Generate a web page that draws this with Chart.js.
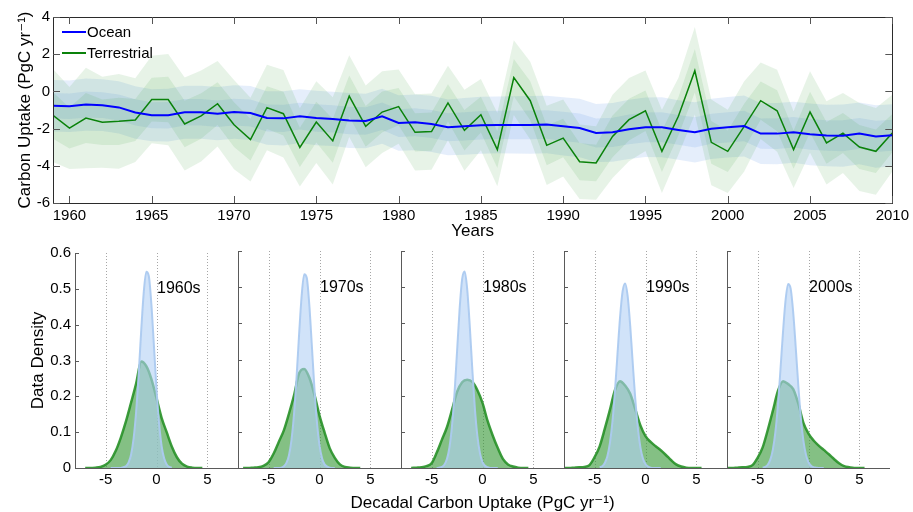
<!DOCTYPE html>
<html>
<head>
<meta charset="utf-8">
<title>Carbon uptake</title>
<script src="https://cdn.jsdelivr.net/npm/chart.js@4.4.1/dist/chart.umd.min.js"></script>
<style>
html,body{margin:0;padding:0;background:#ffffff;overflow:hidden;}
#wrap{position:relative;width:913px;height:512px;}
#wrap canvas{position:absolute;}
</style>
</head>
<body>
<div id="wrap">
<canvas id="topChart" width="913" height="245" style="left:0px;top:0px"></canvas>
<canvas id="d0" width="913" height="272" style="left:0px;top:240px"></canvas>
<canvas id="d1" width="913" height="272" style="left:0px;top:240px"></canvas>
<canvas id="d2" width="861" height="272" style="left:52px;top:240px"></canvas>
<canvas id="d3" width="913" height="272" style="left:0px;top:240px"></canvas>
<canvas id="d4" width="913" height="272" style="left:0px;top:240px"></canvas>
</div>
<script>
// ---------------- data: top panel ----------------
const years = [1959,1960,1961,1962,1963,1964,1965,1966,1967,1968,1969,1970,1971,1972,1973,1974,1975,1976,1977,1978,1979,1980,1981,1982,1983,1984,1985,1986,1987,1988,1989,1990,1991,1992,1993,1994,1995,1996,1997,1998,1999,2000,2001,2002,2003,2004,2005,2006,2007,2008,2009,2010];
const oceanMean = [-0.77,-0.80,-0.71,-0.74,-0.86,-1.13,-1.28,-1.28,-1.12,-1.12,-1.20,-1.11,-1.16,-1.43,-1.45,-1.33,-1.43,-1.48,-1.56,-1.59,-1.34,-1.70,-1.66,-1.75,-1.93,-1.88,-1.82,-1.80,-1.80,-1.80,-1.78,-1.88,-1.97,-2.24,-2.20,-2.04,-1.93,-1.93,-2.07,-2.20,-2.01,-1.93,-1.86,-2.27,-2.27,-2.20,-2.31,-2.37,-2.38,-2.26,-2.42,-2.36];
const oceanSpread = [1.38,1.38,1.40,1.39,1.40,1.41,1.40,1.42,1.43,1.42,1.43,1.44,1.45,1.44,1.46,1.45,1.47,1.46,1.48,1.47,1.48,1.49,1.50,1.51,1.50,1.52,1.53,1.52,1.54,1.55,1.54,1.56,1.57,1.56,1.58,1.59,1.60,1.61,1.60,1.62,1.62,1.63,1.64,1.63,1.65,1.64,1.66,1.65,1.67,1.66,1.68,1.67];
const terrMean = [-1.29,-1.97,-1.43,-1.66,-1.61,-1.54,-0.44,-0.44,-1.75,-1.32,-0.66,-1.79,-2.59,-0.87,-1.20,-3.01,-1.65,-2.66,-0.25,-1.88,-1.11,-0.82,-2.20,-2.16,-0.62,-2.09,-1.25,-3.13,0.74,-0.50,-2.90,-2.51,-3.78,-3.85,-2.42,-1.52,-1.04,-3.22,-1.34,1.11,-2.74,-3.22,-1.88,-0.50,-1.04,-3.13,-1.11,-2.77,-2.24,-2.99,-3.22,-2.24];
const terrSpread = [2.50,2.20,2.70,2.45,2.55,2.25,2.35,2.45,2.50,2.45,2.30,2.40,2.25,2.30,2.35,2.10,2.20,2.35,2.20,2.20,2.20,2.00,2.05,2.05,2.00,2.18,1.92,1.97,2.01,2.09,2.13,2.07,2.00,1.97,2.24,2.24,2.17,2.24,2.06,2.35,2.30,2.24,2.42,2.06,2.20,2.06,2.19,2.24,2.15,2.37,2.33,2.06];
const yearTicks = [1960,1965,1970,1975,1980,1985,1990,1995,2000,2005,2010];
const uptakeTicks = [-6,-4,-2,0,2,4];
const seriesNames = ['Ocean','Terrestrial'];

// ---------------- data: decadal densities ----------------
const decades = ['1960s','1970s','1980s','1990s','2000s'];
const densOceanX = [-4.5,-4.25,-4,-3.75,-3.5,-3.25,-3,-2.75,-2.5,-2.25,-2,-1.75,-1.5,-1.25,-1,-0.75,-0.5,-0.25,0,0.25,0.5,0.75,1,1.25,1.5];
const ocean1960s = [0,0,0,0,0,0.002,0.005,0.015,0.037,0.082,0.157,0.262,0.384,0.491,0.548,0.535,0.456,0.340,0.221,0.126,0.062,0.027,0.010,0.003,0.001];
const ocean1970s = [0,0,0,0.001,0.005,0.014,0.035,0.078,0.150,0.252,0.371,0.477,0.536,0.526,0.451,0.338,0.221,0.126,0.063,0.027,0.010,0.004,0.001,0,0];
const ocean1980s = [0,0.001,0.003,0.009,0.024,0.056,0.115,0.205,0.321,0.438,0.522,0.543,0.494,0.393,0.273,0.165,0.088,0.041,0.016,0.006,0.002,0,0,0,0];
const ocean1990s = [0.002,0.005,0.014,0.032,0.068,0.127,0.212,0.315,0.416,0.488,0.510,0.475,0.393,0.289,0.190,0.111,0.057,0.026,0.011,0.004,0.001,0,0,0,0];
const ocean2000s = [0.001,0.003,0.009,0.023,0.051,0.100,0.175,0.273,0.377,0.464,0.509,0.496,0.430,0.332,0.228,0.139,0.076,0.037,0.016,0.006,0.002,0.001,0,0,0];
const densTerrX = [-8,-7.5,-7,-6.5,-6,-5.5,-5,-4.5,-4,-3.5,-3,-2.5,-2,-1.5,-1,-0.5,0,0.5,1,1.5,2,2.5,3,3.5,4,4.5,5,5.5,6];
const terr1960s = [null,null,0,0,0.001,0.003,0.009,0.022,0.048,0.085,0.130,0.182,0.236,0.297,0.284,0.248,0.195,0.140,0.100,0.060,0.030,0.012,0.004,0.001,0,0,null,null,null];
const terr1970s = [null,0,0,0.001,0.002,0.006,0.016,0.040,0.072,0.104,0.150,0.201,0.262,0.274,0.250,0.203,0.145,0.098,0.055,0.028,0.010,0.003,0.001,0,0,null,null,null,null];
const terr1980s = [null,null,0,0.001,0.002,0.005,0.013,0.042,0.077,0.112,0.160,0.210,0.237,0.244,0.238,0.215,0.180,0.130,0.090,0.055,0.025,0.010,0.004,0.001,0,0,null,null,null];
const terr1990s = [0,0,0.001,0.002,0.003,0.008,0.030,0.060,0.108,0.160,0.215,0.240,0.228,0.205,0.162,0.118,0.088,0.072,0.060,0.049,0.036,0.022,0.010,0.004,0.001,0,0,0,null];
const terr2000s = [0,0,0.001,0.002,0.003,0.008,0.028,0.057,0.105,0.158,0.213,0.240,0.232,0.218,0.178,0.125,0.095,0.076,0.062,0.050,0.038,0.025,0.013,0.005,0.002,0,0,0,null];
const densityXTicks = [-5,0,5];
const densityYTicks = [0,0.1,0.2,0.3,0.4,0.5,0.6];

const oceanDens = [ocean1960s, ocean1970s, ocean1980s, ocean1990s, ocean2000s];
const terrDens = [terr1960s, terr1970s, terr1980s, terr1990s, terr2000s];

// ---------------- common ----------------
Chart.defaults.font.family = "'Liberation Sans', Arial, 'DejaVu Sans', sans-serif";
Chart.defaults.color = '#000';

function seg(ctx, x1, y1, x2, y2) { ctx.beginPath(); ctx.moveTo(x1, y1); ctx.lineTo(x2, y2); ctx.stroke(); }

const decor = {
  id: 'decor',
  beforeDatasetsDraw(chart, args, o) {
    if (!o.dotted) return;
    const ctx = chart.ctx, a = chart.chartArea, x = chart.scales.x;
    ctx.save();
    ctx.strokeStyle = '#a6a6a6'; ctx.lineWidth = 1; ctx.setLineDash([1, 2]);
    o.dotted.forEach(v => { const px = Math.round(x.getPixelForValue(v)) + 0.5; seg(ctx, px, a.top, px, a.bottom); });
    ctx.restore();
  },
  afterDraw(chart, args, o) {
    const ctx = chart.ctx, a = chart.chartArea, x = chart.scales.x, y = chart.scales.y;
    ctx.save();
    ctx.lineWidth = 1;
    if (o.box) {
      ctx.strokeStyle = '#2b2b2b';
      ctx.strokeRect(Math.round(a.left) + 0.5, Math.round(a.top) + 0.5, Math.round(a.right - a.left), Math.round(a.bottom - a.top));
      ctx.strokeStyle = '#555';
      o.xTicks.forEach(v => { const px = Math.round(x.getPixelForValue(v)) + 0.5; seg(ctx, px, a.bottom, px, a.bottom - 7); seg(ctx, px, a.top, px, a.top + 7); });
      o.yTicks.forEach(v => { const py = Math.round(y.getPixelForValue(v)) + 0.5; seg(ctx, a.left, py, a.left + 7, py); seg(ctx, a.right, py, a.right - 7, py); });
    }
    if (o.legend) {
      const ds = chart.data.datasets;
      o.legend.forEach((idx, k) => {
        const ly = a.top + 15 + k * 21;
        ctx.strokeStyle = ds[idx].borderColor; ctx.lineWidth = 2;
        seg(ctx, a.left + 9, ly, a.left + 33, ly);
        ctx.fillStyle = '#000'; ctx.font = "15px 'Liberation Sans', Arial, sans-serif";
        ctx.textAlign = 'left'; ctx.textBaseline = 'middle';
        ctx.fillText(ds[idx].label, a.left + 34, ly + 1);
      });
    }
    if (o.panel) {
      ctx.strokeStyle = '#5a5a5a'; ctx.lineWidth = 1;
      const lx = Math.round(a.left) + 0.5, by = Math.round(a.bottom) + 0.5;
      seg(ctx, lx, a.top, lx, a.bottom);
      seg(ctx, a.left, by, a.right, by);
      o.yTicks.forEach(v => { if (v === 0) return; const py = Math.round(y.getPixelForValue(v)) + 0.5; seg(ctx, a.left, py, a.left + 4, py); });
      ctx.fillStyle = '#000'; ctx.font = "16px 'Liberation Sans', Arial, sans-serif";
      ctx.textAlign = 'left'; ctx.textBaseline = 'middle';
      ctx.fillText(o.label, x.getPixelForValue(0.05), y.getPixelForValue(0.5));
    }
    ctx.restore();
  }
};

// ---------------- top chart ----------------
const pts = arr => years.map((yr, i) => ({x: yr, y: arr[i]}));
const band = (mean, spr, f, sign) => mean.map((m, i) => m + sign * spr[i] * f);
const bandStyle = (col, fill) => ({borderWidth: 0, borderColor: 'transparent', backgroundColor: col, pointRadius: 0, fill: fill, tension: 0});

new Chart(document.getElementById('topChart'), {
  type: 'line',
  data: {
    datasets: [
      {label: seriesNames[0], data: pts(oceanMean), borderColor: '#0000ff', borderWidth: 2, pointRadius: 0, fill: false, tension: 0},
      {label: seriesNames[1], data: pts(terrMean), borderColor: '#0a820a', borderWidth: 1.5, pointRadius: 0, fill: false, tension: 0},
      Object.assign({label: 'terr inner hi', data: pts(band(terrMean, terrSpread, 0.5, 1))}, bandStyle('rgba(70,160,70,0.13)', '+1')),
      Object.assign({label: 'terr inner lo', data: pts(band(terrMean, terrSpread, 0.5, -1))}, bandStyle('transparent', false)),
      Object.assign({label: 'terr outer hi', data: pts(band(terrMean, terrSpread, 1, 1))}, bandStyle('rgba(70,160,70,0.13)', '+1')),
      Object.assign({label: 'terr outer lo', data: pts(band(terrMean, terrSpread, 1, -1))}, bandStyle('transparent', false)),
      Object.assign({label: 'ocean inner hi', data: pts(band(oceanMean, oceanSpread, 0.5, 1))}, bandStyle('rgba(110,160,235,0.18)', '+1')),
      Object.assign({label: 'ocean inner lo', data: pts(band(oceanMean, oceanSpread, 0.5, -1))}, bandStyle('transparent', false)),
      Object.assign({label: 'ocean outer hi', data: pts(band(oceanMean, oceanSpread, 1, 1))}, bandStyle('rgba(110,160,235,0.18)', '+1')),
      Object.assign({label: 'ocean outer lo', data: pts(band(oceanMean, oceanSpread, 1, -1))}, bandStyle('transparent', false))
    ]
  },
  options: {
    responsive: false, animation: false, events: [],
    layout: {padding: {left: 0, right: 17, top: 17, bottom: 0}},
    plugins: {legend: {display: false}, tooltip: {enabled: false},
      decor: {box: true, xTicks: yearTicks, yTicks: uptakeTicks, legend: [0, 1]}},
    scales: {
      x: {type: 'linear', min: 1959, max: 2010,
        afterBuildTicks: s => { s.ticks = yearTicks.map(v => ({value: v})); },
        afterFit: s => { s.height = 42; },
        grid: {display: false, drawTicks: false}, border: {display: false},
        ticks: {padding: 4, font: {size: 15}, color: '#000', maxRotation: 0, autoSkip: false, callback: v => String(v)},
        title: {display: true, text: 'Years', font: {size: 17}, color: '#000', padding: {top: 0, bottom: 3}}},
      y: {type: 'linear', min: -6, max: 4,
        afterBuildTicks: s => { s.ticks = uptakeTicks.map(v => ({value: v})); },
        afterFit: s => { s.width = 53; },
        grid: {display: false, drawTicks: false}, border: {display: false},
        ticks: {padding: 3, font: {size: 15}, color: '#000'},
        title: {display: true, text: 'Carbon Uptake (PgC yr\u207B\u00B9)', font: {size: 17}, color: '#000', padding: {top: 15, bottom: 0}}}
    }
  },
  plugins: [decor]
});

// ---------------- density panels ----------------
const panelLeft = 75, panelWidth = 163;
decades.forEach((dec, i) => {
  const left = panelLeft + panelWidth * i;
  const first = i === 0, mid = i === 2;
  // the middle panel's canvas is centred on the panel so that the shared axis title is centred
  const canvasLeft = mid ? 52 : 0, canvasWidth = mid ? 861 : 913;
  const leftGap = left - canvasLeft, rightGap = canvasLeft + canvasWidth - (left + panelWidth);
  const scales = {
    x: {type: 'linear', min: -8, max: 8,
      afterBuildTicks: s => { s.ticks = densityXTicks.map(v => ({value: v})); },
      afterFit: s => { s.height = mid ? 27 : 44; },
      grid: {display: false, drawTicks: false}, border: {display: false},
      ticks: {padding: 3, font: {size: 15}, color: '#000', maxRotation: 0, autoSkip: false}},
    y: {type: 'linear', display: first || mid, min: 0, max: 0.6,
      afterBuildTicks: s => { s.ticks = densityYTicks.map(v => ({value: v})); },
      afterFit: s => { s.width = first ? 75 : (mid ? leftGap : 0); },
      grid: {display: false, drawTicks: false}, border: {display: false},
      ticks: {display: first, padding: 4, font: {size: 15}, color: '#000'},
      title: {display: first, text: 'Data Density', font: {size: 17}, color: '#000', padding: {top: 28, bottom: 0}}}
  };
  if (mid) {
    scales.yr = {type: 'linear', position: 'right', display: true, min: 0, max: 0.6,
      afterFit: s => { s.width = rightGap; },
      grid: {display: false, drawTicks: false}, border: {display: false}, ticks: {display: false}};
  }
  new Chart(document.getElementById('d' + i), {
    type: 'line',
    data: {
      datasets: [
        {label: seriesNames[0], data: densOceanX.map((v, k) => ({x: v, y: oceanDens[i][k]})),
          borderColor: 'rgba(172,202,240,0.95)', borderWidth: 2, backgroundColor: 'rgba(178,208,245,0.6)',
          fill: 'origin', pointRadius: 0, cubicInterpolationMode: 'monotone'},
        {label: seriesNames[1], data: densTerrX.map((v, k) => ({x: v, y: terrDens[i][k]})),
          borderColor: 'rgba(40,145,40,0.9)', borderWidth: 2.5, backgroundColor: 'rgba(50,150,50,0.6)',
          fill: 'origin', pointRadius: 0, cubicInterpolationMode: 'monotone', spanGaps: false}
      ]
    },
    options: {
      responsive: false, animation: false, events: [],
      layout: {padding: {left: (first || mid) ? 0 : leftGap, right: mid ? 0 : rightGap, top: 11, bottom: 0}},
      plugins: {legend: {display: false}, tooltip: {enabled: false},
        title: {display: mid, position: 'bottom', text: 'Decadal Carbon Uptake (PgC yr\u207B\u00B9)',
          font: {size: 17, weight: 'normal', lineHeight: 1}, color: '#000', padding: {top: 0, bottom: 0}},
        decor: {panel: true, dotted: densityXTicks, yTicks: densityYTicks, label: dec}},
      scales: scales
    },
    plugins: [decor]
  });
});
</script>
</body>
</html>
